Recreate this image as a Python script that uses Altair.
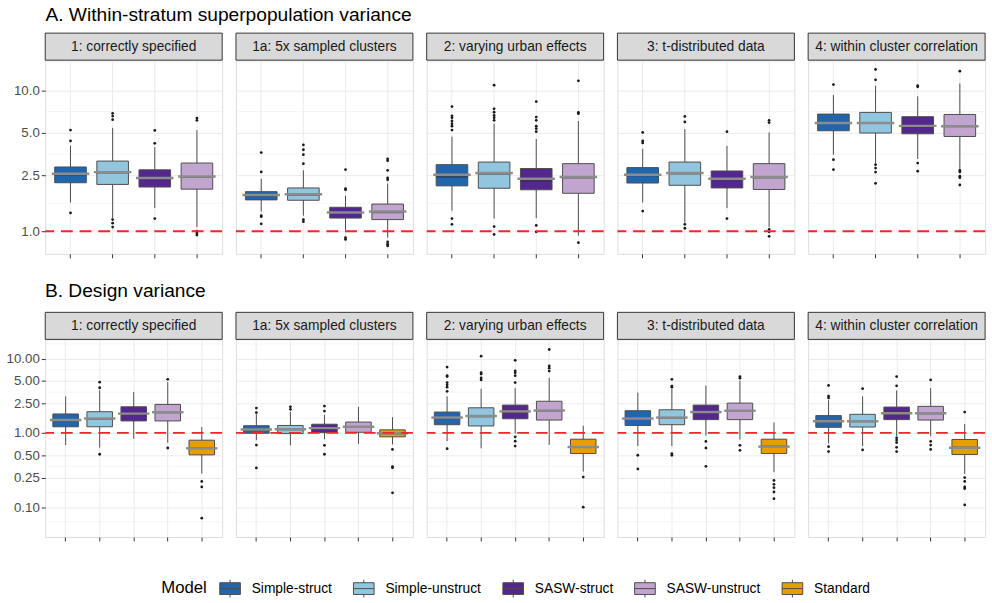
import altair as alt
import pandas as pd

FONT = "Liberation Sans"

models = ["Simple-struct", "Simple-unstruct", "SASW-struct", "SASW-unstruct", "Standard"]
colors = ["#2166AC", "#92C5DE", "#54278F", "#C2A5CF", "#E69F00"]
scenarios = ["1: correctly specified", "1a: 5x sampled clusters", "2: varying urban effects",
             "3: t-distributed data", "4: within cluster correlation"]
titles = ["A. Within-stratum superpopulation variance", "B. Design variance"]

# ---------------- Section A (4 models per panel) ----------------
a_q1 = [[2.21, 2.15, 2.06, 1.99], [1.67, 1.66, 1.24, 1.21], [2.10, 2.02, 1.97, 1.86],
        [2.20, 2.12, 2.03, 1.98], [5.17, 4.98, 4.92, 4.71]]
a_med = [[2.52, 2.60, 2.36, 2.42], [1.79, 1.81, 1.35, 1.36], [2.43, 2.55, 2.27, 2.40],
         [2.49, 2.56, 2.33, 2.40], [5.85, 5.85, 5.55, 5.55]]
a_q3 = [[2.86, 3.15, 2.73, 3.05], [1.91, 2.03, 1.48, 1.56], [2.97, 3.10, 2.79, 3.02],
        [2.83, 3.10, 2.68, 3.02], [6.79, 6.98, 6.51, 6.75]]
a_lo = [[1.60, 1.24, 1.46, 1.07], [1.38, 1.29, 1.02, 0.90], [1.40, 1.23, 1.24, 0.93],
        [1.60, 1.15, 1.46, 1.07], [3.49, 3.05, 3.26, 2.77]]
a_hi = [[4.06, 5.42, 3.95, 5.23], [2.36, 2.71, 1.79, 2.18], [4.69, 5.80, 4.52, 6.07],
        [3.85, 5.31, 4.04, 5.03], [9.27, 10.8, 9.08, 11.2]]
a_mean = [[2.56, 2.63, 2.39, 2.45], [1.81, 1.83, 1.36, 1.38], [2.52, 2.59, 2.36, 2.43],
          [2.52, 2.59, 2.36, 2.43], [5.88, 5.88, 5.60, 5.57]]
a_out = [
    [[5.23, 4.38, 1.35], [6.88, 6.57, 6.2, 1.21, 1.14, 1.07], [5.2, 4.21, 1.23], [6.36, 6.13, 1.0, 0.97, 0.94]],
    [[3.62, 2.64, 1.29, 1.27, 1.13], [4.1, 3.79, 3.5, 3.02, 1.21, 1.17], [2.74, 2.01, 1.97, 0.9, 0.875],
     [3.27, 3.17, 2.71, 2.39, 2.32, 0.84, 0.81, 0.786]],
    [[7.68, 6.6, 6.4, 6.07, 5.8, 5.57, 5.23, 1.23, 1.12], [10.9, 7.4, 7.0, 6.64, 6.4, 6.13, 1.08, 0.95],
     [8.34, 6.47, 6.13, 5.57, 5.36, 5.09, 1.10, 0.99], [11.7, 6.98, 6.84, 0.83]],
    [[5.03, 4.38, 4.24, 1.39], [6.54, 5.97, 1.12, 1.05], [5.09, 1.23], [6.13, 5.91, 1.03, 0.99, 0.92]],
    [[11.0, 3.22, 2.74], [14.1, 11.9, 2.97, 2.81, 2.63, 2.19], [10.8, 10.6, 3.05, 2.67],
     [13.7, 2.71, 2.64, 2.46, 2.4, 2.13]],
]
a_ticks = [1.0, 2.5, 5.0, 10.0]
a_minor = [1.581, 3.536, 7.071, 15.81]
a_domain = [0.691, 16.4]

# ---------------- Section B (5 models per panel) ----------------
b_q1 = [[1.21, 1.21, 1.45, 1.45, 0.506], [0.99, 0.98, 1.01, 1.02, 0.885], [1.29, 1.24, 1.55, 1.49, 0.527],
        [1.26, 1.29, 1.51, 1.51, 0.527], [1.19, 1.20, 1.51, 1.49, 0.512]]
b_med = [[1.46, 1.53, 1.80, 1.88, 0.63], [1.10, 1.11, 1.14, 1.19, 0.98], [1.58, 1.66, 1.92, 1.98, 0.65],
         [1.53, 1.58, 1.88, 1.96, 0.66], [1.42, 1.42, 1.82, 1.82, 0.64]]
b_q3 = [[1.80, 1.93, 2.25, 2.42, 0.798], [1.25, 1.26, 1.31, 1.40, 1.10], [1.91, 2.18, 2.37, 2.67, 0.823],
        [1.99, 2.05, 2.37, 2.52, 0.823], [1.71, 1.78, 2.23, 2.28, 0.816]]
b_lo = [[0.686, 0.634, 0.833, 0.737, 0.283], [0.80, 0.68, 0.82, 0.715, 0.70], [0.774, 0.62, 0.98, 0.694, 0.301],
        [0.665, 0.665, 0.92, 0.815, 0.296], [0.72, 0.665, 0.90, 0.90, 0.281]]
b_hi = [[3.11, 3.74, 3.55, 4.82, 1.20], [1.78, 1.93, 1.75, 2.25, 1.63], [3.11, 3.94, 4.01, 5.5, 1.25],
        [3.49, 3.94, 4.36, 5.07, 1.38], [2.76, 3.11, 3.74, 4.01, 1.32]]
b_mean = [[1.49, 1.56, 1.82, 1.90, 0.62], [1.11, 1.12, 1.16, 1.21, 0.99], [1.61, 1.69, 1.95, 2.01, 0.645],
          [1.56, 1.61, 1.91, 1.99, 0.653], [1.44, 1.44, 1.84, 1.84, 0.633]]
b_out = [
    [[], [4.82, 4.06, 0.516], [], [5.27, 0.626], [0.222, 0.187, 0.071]],
    [[2.16, 1.88, 0.686, 0.337], [2.25, 2.08], [2.30, 1.97, 0.68, 0.516], [], [0.60, 0.35, 0.34, 0.156]],
    [[7.7, 5.9, 5.74, 4.77, 4.45, 4.13, 3.63, 0.614], [10.8, 6.47, 6.22, 5.5, 5.18],
     [9.5, 6.87, 6.47, 5.9, 4.77, 0.885, 0.774, 0.665], [13.3, 8.0, 7.46, 6.8], [0.254, 0.1]],
    [[0.50, 0.327], [5.27, 4.27, 4.13, 0.527, 0.50], [0.767, 0.626, 0.355], [5.74, 5.47, 0.68, 0.583],
     [0.229, 0.203, 0.183, 0.16, 0.13]],
    [[4.36, 3.14, 2.96, 0.653, 0.56], [3.94, 0.589], [5.74, 4.31, 0.859, 0.80, 0.74, 0.64, 0.56],
     [5.18, 0.767, 0.686, 0.60], [1.91, 0.25, 0.222, 0.187, 0.178, 0.107]],
]
b_ticks = [0.1, 0.25, 0.5, 1.0, 2.5, 5.0, 10.0]
b_minor = [0.0632, 0.158, 0.354, 0.707, 1.581, 3.536, 7.071, 15.81]
b_domain = [0.0396, 18.2]

ref_value = [1.0]

BOX_PATH = "M-1,-0.57H1V0.57H-1Z M-1,0H1 M0,-0.57V-0.86 M0,0.57V0.86"

fill_enc = alt.Fill(
    "model:N",
    scale=alt.Scale(domain=models, range=colors),
    legend=alt.Legend(
        title="Model", orient="none", legendX=118, legendY=526, direction="horizontal",
        titleOrient="left", titleFontSize=17, titleFontWeight="normal", titleColor="#000000",
        titleFont=FONT, titlePadding=12, titleBaseline="middle",
        labelFont=FONT, labelFontSize=14, labelColor="#000000", labelOffset=11,
        columnPadding=19, symbolType=BOX_PATH, symbolSize=441,
        symbolStrokeColor="#4D4D4D", symbolStrokeWidth=1, symbolOpacity=1,
    ),
)


def panel(p, nmod, q1, med, q3, lo, hi, mean, outs, width, height, ydom, ticks, minor, fmt, first):
    mods = models[:nmod]
    box = pd.DataFrame({"model": mods, "q1": q1[p], "med": med[p], "q3": q3[p],
                        "lo": lo[p], "hi": hi[p], "mean": mean[p]})
    outdf = pd.DataFrame([{"model": m, "v": v} for m, vs in zip(mods, outs[p]) for v in vs])
    step = width / (nmod + 0.2)
    bw = 0.75 * step

    xs = alt.Scale(domain=mods, paddingInner=0.25, paddingOuter=0.225)
    xax = alt.Axis(labels=False, title=None, domain=False, ticks=True, tickSize=4, tickColor="#333333",
                   tickWidth=1, grid=True, gridColor="#EBEBEB", gridWidth=1, bandPosition=0.5)
    ys = alt.Scale(type="log", domain=ydom, nice=False)
    if first:
        yax = alt.Axis(values=ticks, format=fmt, title=None, domain=False, tickSize=4, tickColor="#333333",
                       labelColor="#4D4D4D", labelFontSize=13.5, labelFont=FONT, labelPadding=2,
                       grid=True, gridColor="#EBEBEB", gridWidth=1)
    else:
        yax = alt.Axis(values=ticks, labels=False, ticks=False, title=None, domain=False,
                       grid=True, gridColor="#EBEBEB", gridWidth=1)

    X = alt.X("model:N", scale=xs, axis=xax)

    minor_layer = alt.Chart(pd.DataFrame({"v": minor})).mark_rule(
        color="#EBEBEB", strokeWidth=0.5, clip=True
    ).encode(y=alt.Y("v:Q", scale=ys, axis=yax))

    whisk = alt.Chart(box).mark_rule(color="#4D4D4D", strokeWidth=1).encode(
        x=X, y=alt.Y("lo:Q", scale=ys, axis=yax), y2="hi:Q")

    boxes = alt.Chart(box).mark_bar(stroke="#4D4D4D", strokeWidth=1, opacity=1).encode(
        x=X, y=alt.Y("q1:Q", scale=ys, axis=yax), y2="q3:Q", fill=fill_enc)

    medians = alt.Chart(box).mark_tick(color="#333333", thickness=1.5, size=bw).encode(
        x=X, y=alt.Y("med:Q", scale=ys, axis=yax))

    means = alt.Chart(box).mark_tick(color="#8C8C8C", thickness=2.5, size=bw + 6, opacity=1).encode(
        x=X, y=alt.Y("mean:Q", scale=ys, axis=yax))

    pts = alt.Chart(outdf).mark_circle(size=8, color="#1A1A1A", opacity=1).encode(
        x=X, y=alt.Y("v:Q", scale=ys, axis=yax))

    ref = alt.Chart(pd.DataFrame({"r": ref_value})).mark_rule(
        color="#F0262E", strokeDash=[12, 7], strokeWidth=1.8
    ).encode(y=alt.Y("r:Q", scale=ys, axis=yax))

    strip_df = pd.DataFrame({"t": [scenarios[p]]})
    strip = alt.Chart(strip_df).mark_rect(fill="#D9D9D9", stroke="#333333", strokeWidth=1).encode(
        x=alt.value(0), x2=alt.value(width), y=alt.value(-27.5), y2=alt.value(0))
    strip_txt = alt.Chart(strip_df).mark_text(font=FONT, fontSize=14, color="#1A1A1A",
                                              baseline="middle", align="center").encode(
        x=alt.value(width / 2), y=alt.value(-13.5), text="t:N")

    layers = [minor_layer, whisk, boxes, medians, means, pts, ref, strip, strip_txt]
    return alt.layer(*layers).properties(width=width, height=height)


def row_title(text, dx, offset):
    return alt.TitleParams(text=text, anchor="start", font=FONT, fontSize=19.5, fontWeight="normal",
                           color="#000000", baseline="alphabetic", offset=offset, dx=dx)


row_a = alt.hconcat(*[
    panel(p, 4, a_q1, a_med, a_q3, a_lo, a_hi, a_mean, a_out, 180, 197, a_domain, a_ticks, a_minor,
          ".1f", p == 0) for p in range(5)
], spacing=10, title=row_title(titles[0], 33, -8.6))

row_b = alt.hconcat(*[
    panel(p, 5, b_q1, b_med, b_q3, b_lo, b_hi, b_mean, b_out, 180, 201, b_domain, b_ticks, b_minor,
          ".2f", p == 0) for p in range(5)
], spacing=10, title=row_title(titles[1], 40, -4.6))

chart = alt.vconcat(row_a, row_b, spacing=22).resolve_scale(fill="shared").resolve_legend(
    fill="shared"
).properties(
    padding={"left": 5, "top": 0, "right": 5, "bottom": 2}
).configure_view(
    stroke="#333333", strokeWidth=1
).configure(font=FONT, background="#FFFFFF")

chart.save("out.html", embed_options={"renderer": "svg", "actions": False})
